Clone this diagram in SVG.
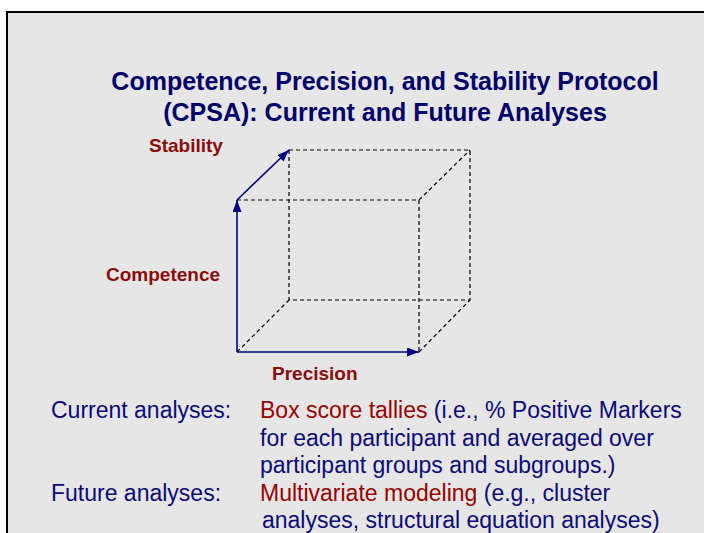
<svg xmlns="http://www.w3.org/2000/svg" width="704" height="533" viewBox="0 0 704 533">
<style>
.title{font-family:"Liberation Sans",Arial,sans-serif;font-weight:bold;font-size:25px;fill:#00006b;text-anchor:middle}
.axis{font-family:"Liberation Sans",Arial,sans-serif;font-weight:bold;font-size:19px;fill:#8b0a0a}
.body{font-family:"Liberation Sans",Arial,sans-serif;font-size:23px;fill:#0a0a78}
.red{fill:#990000}
.dash{stroke:#000;stroke-width:1.2;stroke-dasharray:4,3;fill:none}
.arrow{stroke:#000080;stroke-width:1.6;fill:none;marker-end:url(#ah)}
</style>
<defs>
<marker id="ah" markerUnits="userSpaceOnUse" markerWidth="13" markerHeight="9" refX="12" refY="4.5" orient="auto">
<path d="M0,0 L12,4.5 L0,9 Z" fill="#000080"/>
</marker>
</defs>
<rect x="0" y="0" width="704" height="533" fill="#ffffff"/>
<rect x="7" y="12" width="720" height="540" fill="#e6e6e6" stroke="#000" stroke-width="2"/>
<g id="title">
<text class="title" x="385" y="90">Competence, Precision, and Stability Protocol</text>
<text class="title" x="385" y="121">(CPSA): Current and Future Analyses</text>
</g>
<g id="connectors">
<rect class="dash" x="289" y="150" width="181" height="150"/>
<path class="dash" d="M237,200 H419 V352"/>
<path class="dash" d="M419,200 L470,150 M237,352 L289,300 M419,352 L470,300"/>
<line class="arrow" x1="237" y1="352" x2="237" y2="200"/>
<line class="arrow" x1="237" y1="352" x2="419" y2="352"/>
<line class="arrow" x1="237" y1="200" x2="289" y2="150"/>
</g>
<g id="label-stability"><text class="axis" x="149" y="152">Stability</text></g>
<g id="label-competence"><text class="axis" x="106" y="281">Competence</text></g>
<g id="label-precision"><text class="axis" x="272" y="380">Precision</text></g>
<g id="current-analyses">
<text class="body" x="51" y="418">Current analyses:</text>
<text class="body" x="260" y="418"><tspan class="red">Box score tallies</tspan> (i.e., % Positive Markers</text>
<text class="body" x="260" y="445.5">for each participant and averaged over</text>
<text class="body" x="260" y="473">participant groups and subgroups.)</text>
</g>
<g id="future-analyses">
<text class="body" x="51" y="500.5">Future analyses:</text>
<text class="body" x="260" y="500.5"><tspan class="red">Multivariate modeling</tspan> (e.g., cluster</text>
<text class="body" x="262" y="528">analyses, structural equation analyses)</text>
</g>
</svg>
